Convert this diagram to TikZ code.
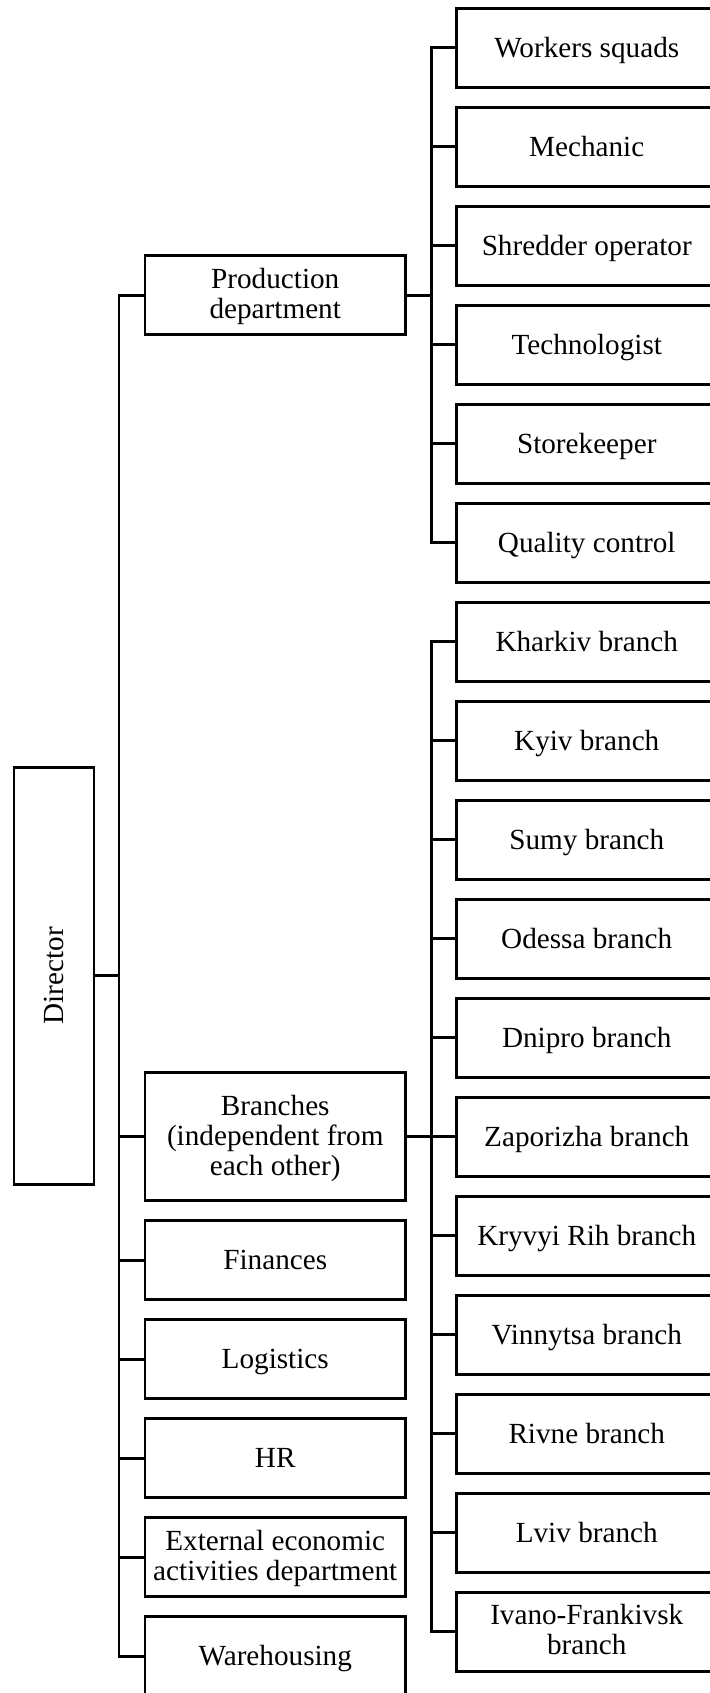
\documentclass[tikz,border=0pt]{standalone}
\usepackage{fontspec}
\setmainfont{Liberation Serif}
\usetikzlibrary{positioning}

\begin{document}
\begin{tikzpicture}[
    x=0.5pt, y=-0.5pt,
    node distance=10pt,
    box/.style={rectangle, draw, line width=1.4pt, outer sep=0pt, inner sep=2pt,
                minimum width=130.25pt, minimum height=39.5pt, align=center,
                font=\fontsize{14.6}{15}\selectfont},
    unit/.style={box, text height=9.2pt, text depth=0pt},
    twoline/.style={box, text height=26.2pt, text depth=3.2pt},
    link/.style={line width=1.4pt}
  ]
  \useasboundingbox (0,0) rectangle (710,1693);
  \clip (0,0) rectangle (710,1693);

  % production staff
  \node[unit] (w1) at (586.75,47.8) {Workers squads};
  \node[unit, below=of w1] (w2) {Mechanic};
  \node[unit, below=of w2] (w3) {Shredder operator};
  \node[unit, below=of w3] (w4) {Technologist};
  \node[unit, below=of w4] (w5) {Storekeeper};
  \node[unit, below=of w5] (w6) {Quality control};

  % branches
  \node[unit, below=of w6] (b1) {Kharkiv branch};
  \node[unit, below=of b1] (b2) {Kyiv branch};
  \node[unit, below=of b2] (b3) {Sumy branch};
  \node[unit, below=of b3] (b4) {Odessa branch};
  \node[unit, below=of b4] (b5) {Dnipro branch};
  \node[unit, below=of b5] (b6) {Zaporizha branch};
  \node[unit, below=of b6] (b7) {Kryvyi Rih branch};
  \node[unit, below=of b7] (b8) {Vinnytsa branch};
  \node[unit, below=of b8] (b9) {Rivne branch};
  \node[unit, below=of b9] (b10) {Lviv branch};
  \node[twoline, below=of b10] (b11) {Ivano-Frankivsk\\branch};

  % departments
  \node[twoline] (prod) at (275.25,295.3) {Production\\department};
  \node[box, minimum height=64pt, text height=41.2pt, text depth=3pt] (bra) at (275.25,1136.8) {Branches\\(independent from\\each other)};
  \node[unit, below=of bra] (fin) {Finances};
  \node[unit, below=of fin] (log) {Logistics};
  \node[unit, below=of log] (hr) {HR};
  \node[twoline, below=of hr] (ext) {External economic\\activities department};
  \node[unit, below=of ext] (ware) {Warehousing};

  \node[box, minimum width=40pt, minimum height=208.5pt] (dir) at (54,975.8) {\rotatebox{90}{Director}};

  \coordinate[left=13pt of prod.west] (trunk);
  \coordinate[left=12.5pt of w1.west] (rtrunk);

  % director to departments
  \draw[link] (prod.west) -- (trunk) |- (ware.west);
  \draw[link] (dir.east) -- (dir.east -| trunk);
  \draw[link] (bra.west) -- (bra.west -| trunk);
  \draw[link] (fin.west) -- (fin.west -| trunk);
  \draw[link] (log.west) -- (log.west -| trunk);
  \draw[link] (hr.west) -- (hr.west -| trunk);
  \draw[link] (ext.west) -- (ext.west -| trunk);

  % production department to staff
  \draw[link] (w1.west) -- (rtrunk) |- (w6.west);
  \draw[link] (prod.east) -- (prod.east -| rtrunk);
  \draw[link] (w2.west) -- (w2.west -| rtrunk);
  \draw[link] (w3.west) -- (w3.west -| rtrunk);
  \draw[link] (w4.west) -- (w4.west -| rtrunk);
  \draw[link] (w5.west) -- (w5.west -| rtrunk);

  % branches
  \draw[link] (b1.west) -- (b1.west -| rtrunk) |- (b11.west);
  \draw[link] (bra.east) -- (bra.east -| rtrunk);
  \draw[link] (b2.west) -- (b2.west -| rtrunk);
  \draw[link] (b3.west) -- (b3.west -| rtrunk);
  \draw[link] (b4.west) -- (b4.west -| rtrunk);
  \draw[link] (b5.west) -- (b5.west -| rtrunk);
  \draw[link] (b6.west) -- (b6.west -| rtrunk);
  \draw[link] (b7.west) -- (b7.west -| rtrunk);
  \draw[link] (b8.west) -- (b8.west -| rtrunk);
  \draw[link] (b9.west) -- (b9.west -| rtrunk);
  \draw[link] (b10.west) -- (b10.west -| rtrunk);
\end{tikzpicture}
\end{document}
